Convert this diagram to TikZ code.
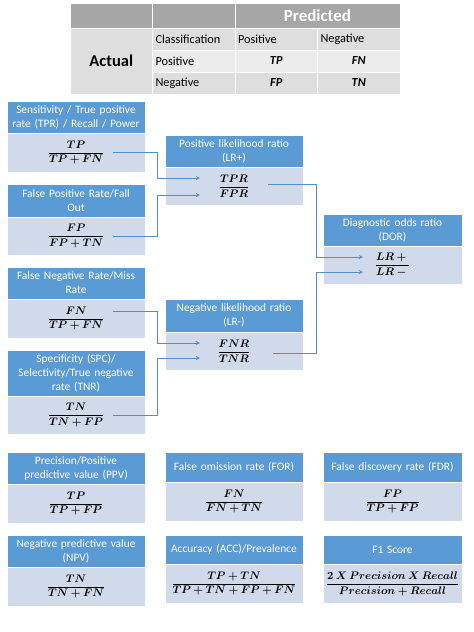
\documentclass[tikz,border=0pt]{standalone}
\usepackage[no-math]{fontspec}
\setmainfont{Carlito}
\usepackage{bm}
\usepackage{tikz}
\usetikzlibrary{arrows, positioning, calc}
\definecolor{hdblue}{RGB}{91,155,213}
\definecolor{bdblue}{RGB}{208,218,235}
\definecolor{linkblue}{RGB}{84,141,200}
\definecolor{tgrayhead}{RGB}{166,166,166}
\definecolor{tgraya}{RGB}{222,222,222}
\definecolor{tgrayb}{RGB}{236,236,236}
\newcommand{\metricfrac}[2]{$\displaystyle\frac{\bm{#1}}{\bm{#2}}$}

\begin{document}
\begin{tikzpicture}[
    x=1pt, y=-1pt,
    hdbox/.style={rectangle, fill=hdblue, draw=white, line width=0.6pt, minimum width=138pt, minimum height=32pt, text width=136pt, align=center, inner sep=0pt, outer sep=0pt, text=white, font=\fontsize{11.4}{14}\selectfont},
    bdbox/.style={rectangle, fill=bdblue, draw=white, line width=0.6pt, minimum width=138pt, minimum height=39pt, inner sep=0pt, outer sep=0pt, font=\fontsize{10.7}{12}\selectfont},
    thead/.style={rectangle, fill=tgrayhead, draw=white, line width=0.8pt, minimum width=82.5pt, minimum height=25pt, inner sep=0pt, outer sep=0pt},
    tcell/.style={rectangle, draw=white, line width=0.8pt, minimum width=82.5pt, minimum height=22pt, text width=76.5pt, inner xsep=3pt, inner ysep=0pt, outer sep=0pt, align=left, font=\fontsize{12.3}{14}\selectfont},
    tval/.style={tcell, align=center, font=\bfseries\itshape\fontsize{12.3}{14}\selectfont},
    arrow/.style={line width=0.9pt, ->, >=stealth, color=linkblue}
]
\useasboundingbox (0,0) rectangle (474,632);

% confusion matrix
\node[thead, anchor=north west] (tcorner) at (70,3) {};
\node[thead, right=0pt of tcorner] (tblank) {};
\node[thead, right=0pt of tblank, minimum width=165pt, text=white, font=\bfseries\fontsize{17}{19}\selectfont] (tpred) {Predicted};
\node[tcell, fill=tgraya, anchor=north west, minimum height=66pt, align=center, font=\bfseries\fontsize{16.5}{18}\selectfont] (tactual) at (70,28) {Actual};
\node[tcell, fill=tgraya, anchor=north west] (tclass) at (152.5,28) {Classification};
\node[tcell, fill=tgraya, right=0pt of tclass] (tcpos) {Positive};
\node[tcell, fill=tgraya, right=0pt of tcpos] (tcneg) {Negative};
\node[tcell, fill=tgrayb, below=0pt of tclass] (tapos) {Positive};
\node[tval, fill=tgrayb, right=0pt of tapos] (ttp) {TP};
\node[tval, fill=tgrayb, right=0pt of ttp] (tfn) {FN};
\node[tcell, fill=tgraya, below=0pt of tapos] (taneg) {Negative};
\node[tval, fill=tgraya, right=0pt of taneg] (tfp) {FP};
\node[tval, fill=tgraya, right=0pt of tfp] (ttn) {TN};

% rates
\node[hdbox, anchor=north west] (senshd) at (7,101) {Sensitivity / True positive\\rate (TPR) / Recall / Power};
\node[bdbox, below=0pt of senshd] (sensbd) {\metricfrac{TP}{TP+FN}};
\node[hdbox, anchor=north west, minimum height=33pt] (fprhd) at (7,184) {False Positive Rate/Fall\\Out};
\node[bdbox, below=0pt of fprhd, minimum height=38pt] (fprbd) {\metricfrac{FP}{FP+TN}};
\node[hdbox, anchor=north west] (fnrhd) at (7,267) {False Negative Rate/Miss\\Rate};
\node[bdbox, below=0pt of fnrhd] (fnrbd) {\metricfrac{FN}{TP+FN}};
\node[hdbox, anchor=north west, minimum height=46pt] (spchd) at (7,350) {Specificity (SPC)/\\Selectivity/True negative\\rate (TNR)};
\node[bdbox, below=0pt of spchd, minimum height=38pt] (spcbd) {\metricfrac{TN}{TN+FP}};

% likelihood ratios
\node[hdbox, anchor=north west] (lrphd) at (165,135) {Positive likelihood ratio\\(LR+)};
\node[bdbox, below=0pt of lrphd, minimum height=38pt] (lrpbd) {\metricfrac{TPR}{FPR}};
\node[hdbox, anchor=north west, minimum height=33pt] (lrnhd) at (165,299) {Negative likelihood ratio\\(LR-)};
\node[bdbox, below=0pt of lrnhd, minimum height=38pt] (lrnbd) {\metricfrac{FNR}{TNR}};
\node[hdbox, anchor=north west, minimum width=139pt] (dorhd) at (323,214) {Diagnostic odds ratio\\(DOR)};
\node[bdbox, below=0pt of dorhd, minimum width=139pt, minimum height=38pt] (dorbd) {\metricfrac{LR+{}}{LR-{}}};

% predictive values
\node[hdbox, anchor=north west] (ppvhd) at (7,452) {Precision/Positive\\predictive value (PPV)};
\node[bdbox, below=0pt of ppvhd] (ppvbd) {\metricfrac{TP}{TP+FP}};
\node[hdbox, anchor=north west, minimum height=30pt] (forhd) at (165,452) {False omission rate (FOR)};
\node[bdbox, below=0pt of forhd] (forbd) {\metricfrac{FN}{FN+TN}};
\node[hdbox, anchor=north west, minimum width=139pt, minimum height=30pt] (fdrhd) at (323,452) {False discovery rate (FDR)};
\node[bdbox, below=0pt of fdrhd, minimum width=139pt] (fdrbd) {\metricfrac{FP}{TP+FP}};
\node[hdbox, anchor=north west] (npvhd) at (7,535) {Negative predictive value\\(NPV)};
\node[bdbox, below=0pt of npvhd] (npvbd) {\metricfrac{TN}{TN+FN}};
\node[hdbox, anchor=north west, minimum height=29pt] (acchd) at (165,535) {Accuracy (ACC)/Prevalence};
\node[bdbox, below=0pt of acchd] (accbd) {\metricfrac{TP+TN}{TP+TN+FP+FN}};
\node[hdbox, anchor=north west, minimum width=139pt, minimum height=29pt] (f1hd) at (323,535) {F1 Score};
\node[bdbox, below=0pt of f1hd, minimum width=139pt] (f1bd) {\metricfrac{2\ X\ Precision\ X\ Recall}{Precision+Recall}};

\draw[arrow] ([xshift=-32pt]sensbd.east) -- ++(44,0) |- ([xshift=35pt,yshift=8pt]lrpbd.west);
\draw[arrow] ([xshift=-32pt]fprbd.east) -- ++(44,0) |- ([xshift=35pt,yshift=-9pt]lrpbd.west);
\draw[arrow] ([xshift=-32pt,yshift=7pt]fnrbd.east) -- ++(44,0) |- ([xshift=35pt,yshift=8pt]lrnbd.west);
\draw[arrow] ([xshift=-32pt]spcbd.east) -- ++(44,0) |- ([xshift=35pt,yshift=-7pt]lrnbd.west);
\draw[arrow] ([xshift=-35pt,yshift=2pt]lrpbd.east) -- ++(48,0) |- ([xshift=40pt,yshift=8pt]dorbd.west);
\draw[arrow] ([xshift=-30pt,yshift=-2pt]lrnbd.east) -- ++(43,0) |- ([xshift=40pt,yshift=-7pt]dorbd.west);
\end{tikzpicture}
\end{document}
